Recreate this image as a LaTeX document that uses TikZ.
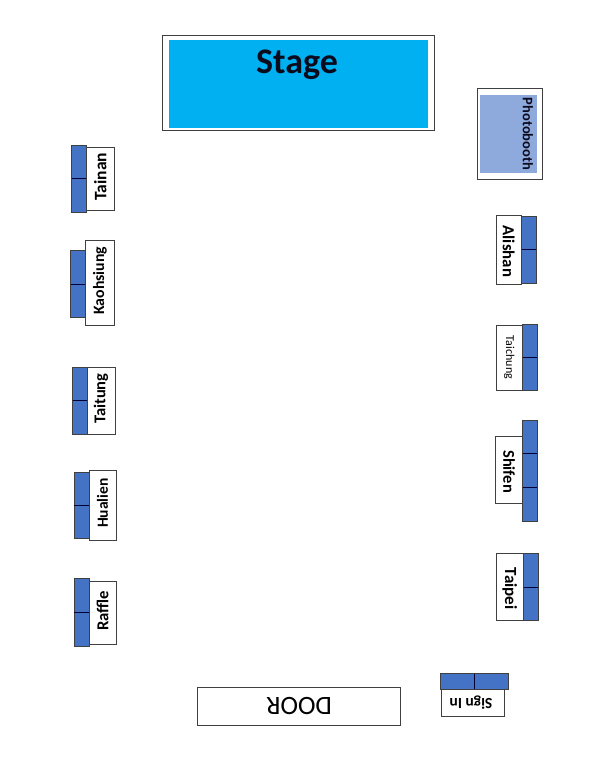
\documentclass[tikz,border=0pt]{standalone}
\usepackage{fontspec}
\setmainfont{Carlito}
\definecolor{tableblue}{HTML}{4472C4}
\definecolor{stageblue}{HTML}{00B0F0}
\definecolor{boothblue}{HTML}{8EA9DB}
\definecolor{edgegray}{HTML}{404040}
\definecolor{inkdark}{HTML}{0B0B1E}
\newcommand{\bx}[7]{%
  \pgfmathsetmacro{\bxcx}{(#3+#5)/2}\pgfmathsetmacro{\bxcy}{(#4+#6)/2}%
  \pgfmathsetmacro{\bxw}{#5-#3}\pgfmathsetmacro{\bxh}{#6-#4}%
  \node[#2,minimum width=\bxw pt,minimum height=\bxh pt] (#1) at (\bxcx,\bxcy) {#7};}
\newcommand{\lblfont}[1]{\bfseries\fontsize{#1}{18}\selectfont}
\tikzset{
  x=1pt,y=-1pt,
  boxbase/.style={draw=edgegray,line width=1pt,inner sep=0pt,outer sep=0pt,fill=white},
  signbox/.style={boxbase},
  tablebox/.style={boxbase,draw=black!75,fill=tableblue},
  divider/.style={draw=black!80!blue,line width=0.8pt},
}
\begin{document}
\begin{tikzpicture}
\useasboundingbox[fill=white] (0,0) rectangle (600,779);
% Stage
\bx{stageframe}{signbox}{162}{35}{434.5}{130}{}
\bx{stagefill}{fill=stageblue,inner sep=0pt,outer sep=0pt}{168.5}{40}{427.5}{127.5}{}
\node[font=\bfseries\fontsize{36}{40}\selectfont,text=inkdark,inner sep=0pt] (stagelabel) at (297,65) {Stage};
% Photobooth
\bx{boothframe}{signbox}{477}{88}{542}{179}{}
\bx{boothfill}{fill=boothblue,inner sep=0pt,outer sep=0pt}{480}{95}{537}{173}{}
\node[font=\lblfont{14.5},rotate=-90,text=inkdark,inner sep=0pt] (boothlabel) at (528,134) {Photobooth};
% Left column
\bx{tainanT}{tablebox}{71.5}{145}{86}{212.5}{}
\draw[divider] (tainanT.west |- 0,178) -- (tainanT.east |- 0,178);
\bx{tainan}{signbox}{86}{147}{114.5}{210}{\rotatebox{90}{\lblfont{17.5} Tainan}}
\bx{kaohT}{tablebox}{70.5}{250}{85.5}{317}{}
\draw[divider] (kaohT.west |- 0,284) -- (kaohT.east |- 0,284);
\bx{kaoh}{signbox}{85.5}{240}{114.5}{325}{\rotatebox{90}{\lblfont{15.8} Kaohsiung}}
\bx{taitT}{tablebox}{72.5}{367}{87}{434}{}
\draw[divider] (taitT.west |- 0,400) -- (taitT.east |- 0,400);
\bx{tait}{signbox}{87}{367}{115}{434}{\rotatebox{90}{\lblfont{16.5} Taitung}}
\bx{hualT}{tablebox}{74}{472}{89}{538.5}{}
\draw[divider] (hualT.west |- 0,505) -- (hualT.east |- 0,505);
\bx{hual}{signbox}{89}{470}{116}{540}{\rotatebox{90}{\lblfont{15.5} Hualien}}
\bx{rafT}{tablebox}{74}{578.5}{89}{646}{}
\draw[divider] (rafT.west |- 0,612) -- (rafT.east |- 0,612);
\bx{raf}{signbox}{89}{581}{116}{644}{\rotatebox{90}{\lblfont{16.7} Raffle}}
% Right column
\bx{aliT}{tablebox}{521}{216}{536}{283}{}
\draw[divider] (aliT.west |- 0,249) -- (aliT.east |- 0,249);
\bx{ali}{signbox}{496.5}{215}{521}{284}{\rotatebox{-90}{\lblfont{16.8} Alishan}}
\bx{taicT}{tablebox}{522.5}{324.5}{537}{390.5}{}
\draw[divider] (taicT.west |- 0,357.5) -- (taicT.east |- 0,357.5);
\bx{taic}{signbox}{496}{325}{522.5}{390}{\rotatebox{-90}{\fontsize{12}{13}\selectfont Taichung}}
\bx{shifT}{tablebox}{522.5}{420}{537}{521}{}
\draw[divider] (shifT.west |- 0,453.5) -- (shifT.east |- 0,453.5);
\draw[divider] (shifT.west |- 0,487) -- (shifT.east |- 0,487);
\bx{shif}{signbox}{495.5}{436.5}{522.5}{503}{\rotatebox{-90}{\lblfont{16.5} Shifen}}
\bx{taipT}{tablebox}{523}{553.5}{538}{620}{}
\draw[divider] (taipT.west |- 0,587) -- (taipT.east |- 0,587);
\bx{taip}{signbox}{496.5}{553.5}{523}{620}{\rotatebox{-90}{\lblfont{17} Taipei}}
% Bottom
\bx{door}{signbox}{197.5}{687}{400.5}{725}{\rotatebox{180}{\fontsize{26.5}{28}\selectfont DOOR}}
\bx{signT}{tablebox}{440.5}{673.5}{508}{689}{}
\draw[divider] (474,0 |- signT.north) -- (474,0 |- signT.south);
\bx{sign}{signbox}{441}{689}{504.5}{716.5}{\rotatebox{180}{\lblfont{15.5} Sign In}}
\end{tikzpicture}
\end{document}
